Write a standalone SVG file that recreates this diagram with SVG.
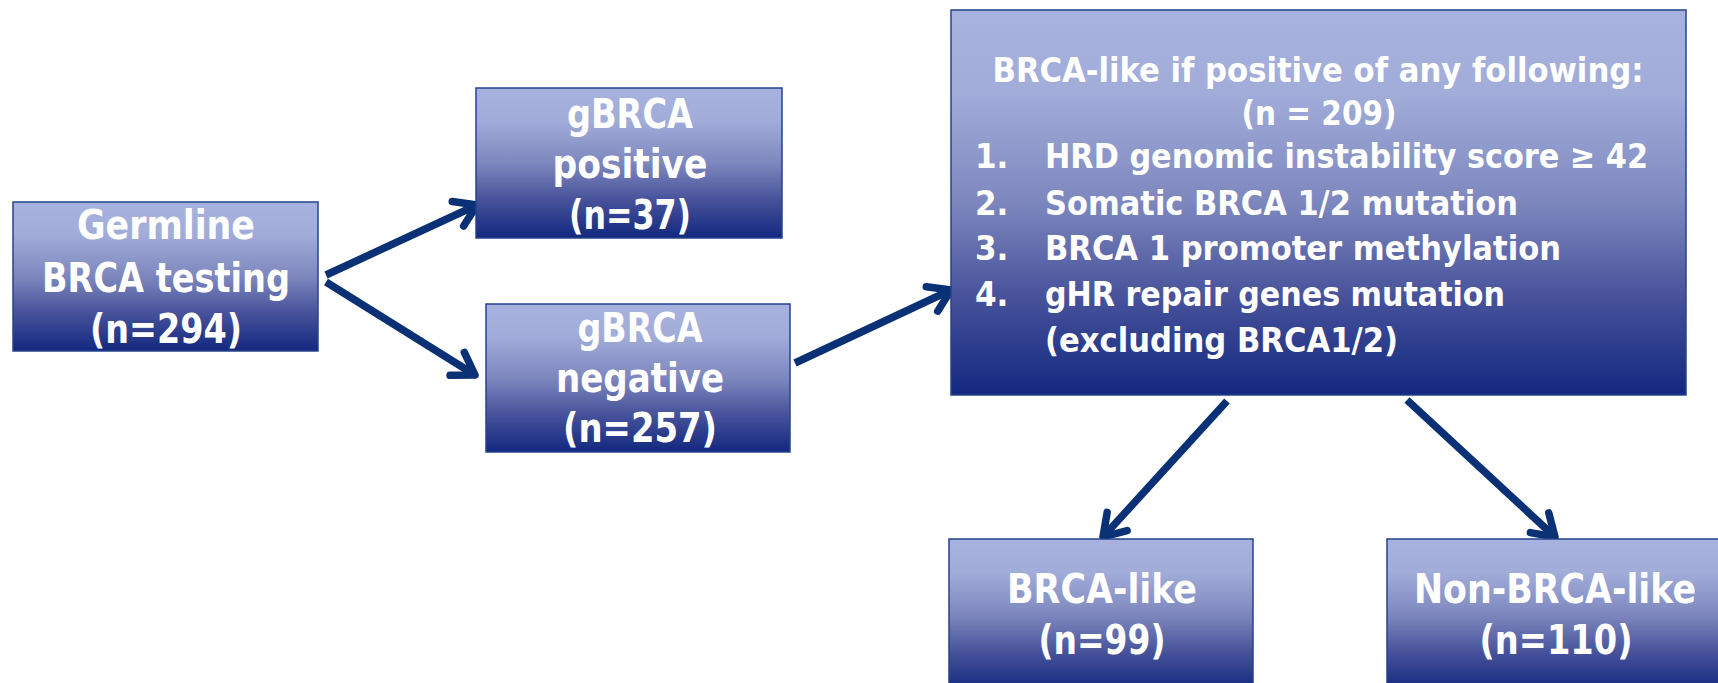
<svg xmlns="http://www.w3.org/2000/svg" width="1718" height="683" viewBox="0 0 1718 683">
  <defs>
    <linearGradient id="boxFill" x1="0" y1="0" x2="0" y2="1">
      <stop offset="0" stop-color="#A7B2DF"/>
      <stop offset="0.22" stop-color="#A1ACD9"/>
      <stop offset="0.5" stop-color="#7D87BE"/>
      <stop offset="0.75" stop-color="#46519A"/>
      <stop offset="1" stop-color="#12287F"/>
    </linearGradient>
    <marker id="head" markerUnits="userSpaceOnUse" viewBox="-30 -20 40 40" refX="0" refY="0" markerWidth="40" markerHeight="40" orient="auto" overflow="visible">
      <path d="M -21,-13.5 L 0,0 L -21,13.5" fill="none" stroke="#0A3176" stroke-width="7.5" stroke-linecap="round" stroke-linejoin="round"/>
    </marker>
    <style>
      .box { fill: url(#boxFill); stroke: #27428F; stroke-width: 1.5; }
      .t { font-family: "DejaVu Sans Condensed", "DejaVu Sans", "Liberation Sans", sans-serif; font-stretch: condensed; font-weight: bold; fill: #FFFFFF; }
      .big { font-size: 40px; text-anchor: middle; }
      .list { font-size: 34.5px; }
      .mid { text-anchor: middle; }
      .link { fill: none; stroke: #0A3176; stroke-width: 7.5; stroke-linecap: butt; marker-end: url(#head); }
    </style>
  </defs>

  <rect width="1718" height="683" fill="#FFFFFF"/>

  <!-- connectors -->
  <g id="connectors">
    <line class="link" x1="326" y1="275" x2="477" y2="205"/>
    <line class="link" x1="326" y1="282" x2="475" y2="375"/>
    <line class="link" x1="795" y1="363" x2="951" y2="290"/>
    <line class="link" x1="1227" y1="401" x2="1103" y2="537"/>
    <line class="link" x1="1407" y1="400" x2="1555" y2="537"/>
  </g>

  <!-- germline testing -->
  <g id="germline">
    <rect class="box" x="13" y="202" width="305" height="149"/>
    <text class="t big" x="166" y="239" textLength="178" lengthAdjust="spacingAndGlyphs">Germline</text>
    <text class="t big" x="166" y="292" textLength="248" lengthAdjust="spacingAndGlyphs">BRCA testing</text>
    <text class="t big" x="166" y="343" textLength="152" lengthAdjust="spacingAndGlyphs">(n=294)</text>
  </g>

  <!-- gBRCA positive -->
  <g id="gbrca-positive">
    <rect class="box" x="476" y="88" width="306" height="150"/>
    <text class="t big" x="630" y="128" textLength="126" lengthAdjust="spacingAndGlyphs">gBRCA</text>
    <text class="t big" x="630" y="178" textLength="155" lengthAdjust="spacingAndGlyphs">positive</text>
    <text class="t big" x="630" y="229" textLength="122" lengthAdjust="spacingAndGlyphs">(n=37)</text>
  </g>

  <!-- gBRCA negative -->
  <g id="gbrca-negative">
    <rect class="box" x="486" y="304" width="304" height="148"/>
    <text class="t big" x="640" y="342" textLength="125" lengthAdjust="spacingAndGlyphs">gBRCA</text>
    <text class="t big" x="640" y="392" textLength="168" lengthAdjust="spacingAndGlyphs">negative</text>
    <text class="t big" x="640" y="442" textLength="154" lengthAdjust="spacingAndGlyphs">(n=257)</text>
  </g>

  <!-- BRCA-like criteria -->
  <g id="criteria">
    <rect class="box" x="951" y="10" width="735" height="385"/>
    <text class="t list mid" x="1318" y="82" textLength="651" lengthAdjust="spacingAndGlyphs">BRCA-like if positive of any following:</text>
    <text class="t list mid" x="1319" y="125" textLength="155" lengthAdjust="spacingAndGlyphs">(n = 209)</text>
    <text class="t list" x="975" y="168">1.</text>
    <text class="t list" x="1045" y="168" textLength="603" lengthAdjust="spacingAndGlyphs">HRD genomic instability score ≥ 42</text>
    <text class="t list" x="975" y="215">2.</text>
    <text class="t list" x="1045" y="215" textLength="473" lengthAdjust="spacingAndGlyphs">Somatic BRCA 1/2 mutation</text>
    <text class="t list" x="975" y="260">3.</text>
    <text class="t list" x="1045" y="260" textLength="516" lengthAdjust="spacingAndGlyphs">BRCA 1 promoter methylation</text>
    <text class="t list" x="975" y="306">4.</text>
    <text class="t list" x="1045" y="306" textLength="460" lengthAdjust="spacingAndGlyphs">gHR repair genes mutation</text>
    <text class="t list" x="1045" y="352" textLength="353" lengthAdjust="spacingAndGlyphs">(excluding BRCA1/2)</text>
  </g>

  <!-- BRCA-like -->
  <g id="brca-like">
    <rect class="box" x="949" y="539" width="304" height="152"/>
    <text class="t big" x="1102" y="603" textLength="190" lengthAdjust="spacingAndGlyphs">BRCA-like</text>
    <text class="t big" x="1102" y="654" textLength="127" lengthAdjust="spacingAndGlyphs">(n=99)</text>
  </g>

  <!-- Non-BRCA-like -->
  <g id="non-brca-like">
    <rect class="box" x="1387" y="539" width="340" height="152"/>
    <text class="t big" x="1555" y="603" textLength="282" lengthAdjust="spacingAndGlyphs">Non-BRCA-like</text>
    <text class="t big" x="1556" y="654" textLength="153" lengthAdjust="spacingAndGlyphs">(n=110)</text>
  </g>
</svg>
